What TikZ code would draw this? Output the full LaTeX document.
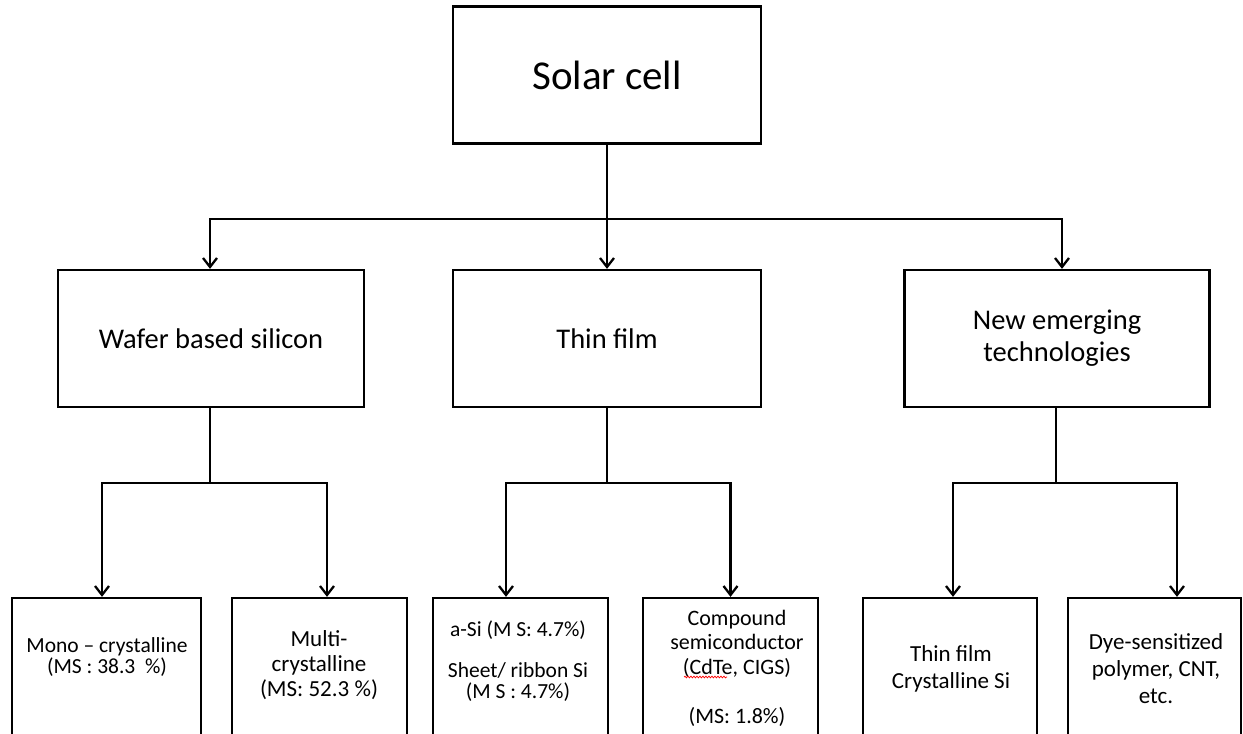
\documentclass[tikz,border=0pt]{standalone}
\usepackage{fontspec}
\setmainfont{Carlito}
\usetikzlibrary{arrows.meta,decorations.pathmorphing}
\begin{document}
\begin{tikzpicture}[x=1pt,y=-1pt,
  box/.style={draw,line width=2.3pt,inner sep=0pt,align=center},
  topbox/.style={box,minimum width=308pt,minimum height=137pt,font=\fontsize{41}{48}\selectfont},
  midbox/.style={box,minimum height=137pt,font=\fontsize{28.5}{32}\selectfont},
  lowbox/.style={box,minimum height=170pt},
  lbl/.style={inner sep=0pt,align=center},
  conn/.style={line width=2.3pt},
  arr/.style={line width=2.3pt,-{Straight Barb[length=9pt,width=14pt]}}]
\useasboundingbox (0,0) rectangle (1243,734);
\clip (0,0) rectangle (1243,734);
\fill[white] (0,0) rectangle (1243,734);
% top
\node[topbox] (top) at (607,75) {Solar cell};
% level 2
\node[midbox,minimum width=306pt] (wafer) at (211,338.5) {Wafer based silicon};
\node[midbox,minimum width=308pt] (thin) at (607,338.5) {Thin film};
\node[midbox,minimum width=305pt] (new) at (1057,338.5) {New emerging\\technologies};
% level 3 boxes
\node[lowbox,minimum width=189pt] (b1) at (106.5,683) {};
\node[lowbox,minimum width=175pt] (b2) at (319.5,683) {};
\node[lowbox,minimum width=175pt] (b3) at (520.5,683) {};
\node[lowbox,minimum width=175pt] (b4) at (730.5,683) {};
\node[lowbox,minimum width=174pt] (b5) at (950,683) {};
\node[lowbox,minimum width=173pt] (b6) at (1154.5,683) {};
% level 3 texts
\node[lbl,font=\fontsize{21.5}{21}\selectfont] (t1) at (107,657.5) {Mono -- crystalline\\(MS : 38.3~~\%)};
\node[lbl,font=\fontsize{23}{25}\selectfont] (t2) at (319,665) {Multi-\\crystalline\\(MS: 52.3 \%)};
\node[lbl,font=\fontsize{21.5}{20.5}\selectfont] (t3) at (518,661) {a-Si (M S: 4.7\%)\\[20.5pt]Sheet/ ribbon Si\\(M S : 4.7\%)};
\node[lbl,font=\fontsize{22}{24.5}\selectfont] (t4) at (737,668) {Compound\\semiconductor\\(CdTe, CIGS)\\[24.5pt](MS: 1.8\%)};
\node[lbl,font=\fontsize{23}{27}\selectfont] (t5) at (951,668.5) {Thin film\\Crystalline Si};
\node[lbl,font=\fontsize{23}{27}\selectfont] (t6) at (1156,669) {Dye-sensitized\\polymer, CNT,\\etc.};
\draw[red,line width=0.7pt,decorate,decoration={snake,amplitude=0.9pt,segment length=3pt}] (684,677) -- (727,677);
% junctions
\coordinate (j0) at (607,219);
\coordinate (j1) at (210,483);
\coordinate (j2) at (607,483);
\coordinate (j3) at (1056,483);
% connectors
\draw[conn] (top.south) -- (j0);
\draw[arr] (j0) -| ([xshift=-1pt]wafer.north);
\draw[arr] (j0) -- (thin.north);
\draw[arr] (j0) -| ([xshift=5pt]new.north);
\draw[conn] ([xshift=-1pt]wafer.south) -- (j1);
\draw[conn] (thin.south) -- (j2);
\draw[conn] ([xshift=-1pt]new.south) -- (j3);
\draw[arr] (j1) -| ([xshift=-4.5pt]b1.north);
\draw[arr] (j1) -| ([xshift=7.5pt]b2.north);
\draw[arr] (j2) -| ([xshift=-14.5pt]b3.north);
\draw[arr] (j2) -| (b4.north);
\draw[arr] (j3) -| ([xshift=3pt]b5.north);
\draw[arr] (j3) -| ([xshift=22.5pt]b6.north);
\end{tikzpicture}
\end{document}
